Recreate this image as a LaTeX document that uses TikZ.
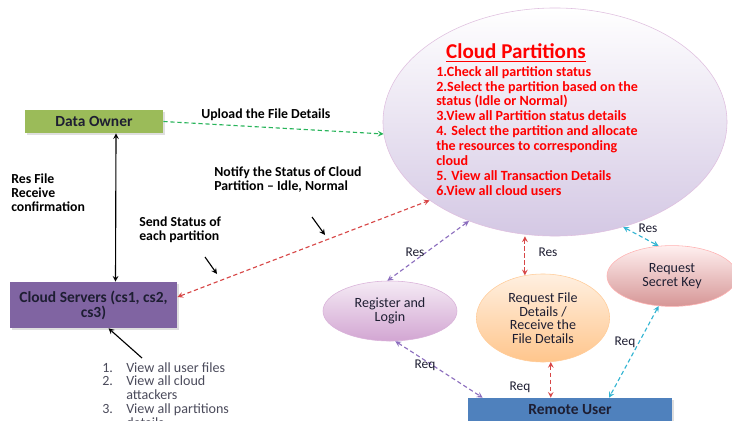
\documentclass[tikz,border=0pt]{standalone}
\usepackage{fontspec}
\setmainfont{Carlito}
\usepackage{tikz}
\usetikzlibrary{shapes.geometric, positioning, calc, shadows}
\definecolor{ownergreen}{RGB}{155,187,89}
\definecolor{serverpurple}{RGB}{128,100,162}
\definecolor{userblue}{RGB}{79,129,189}
\definecolor{boxtext}{RGB}{30,30,50}
\definecolor{dashgreen}{RGB}{40,180,90}
\definecolor{dashred}{RGB}{215,70,70}
\definecolor{dashpurple}{RGB}{140,110,190}
\definecolor{dashcyan}{RGB}{50,180,210}
\definecolor{keyrose}{RGB}{214,150,150}

\begin{document}
\begin{tikzpicture}[x=0.025cm, y=-0.025cm, >=stealth,
    actor/.style={rectangle, inner sep=0pt, font=\fontsize{11}{10.6}\selectfont\bfseries,
        text=boxtext, align=center, drop shadow={shadow xshift=1.2pt, shadow yshift=-1.2pt, opacity=0.25}},
    bubble/.style={ellipse, inner sep=0pt, align=center, text=boxtext,
        font=\fontsize{10}{9.6}\selectfont},
    lbl/.style={inner sep=0pt, align=left, font=\fontsize{9.8}{9.9}\selectfont\bfseries},
    tag/.style={inner sep=0pt, font=\fontsize{9.5}{10}\selectfont, text=boxtext},
    flow/.style={<->, dashed, thick, dash pattern=on 3pt off 2pt}]
    \useasboundingbox (0,0) rectangle (732,421);

    % the cloud partitions
    \node[ellipse, minimum width=8.6cm, minimum height=5.7cm, draw=violet!25,
        top color=white, bottom color={rgb,255:red,212;green,200;blue,228}] (cp) at (555,122) {};
    \node[inner sep=0pt, text=red, font=\fontsize{15}{17}\selectfont\bfseries] (cptitle) at (516,53)
        {\underline{Cloud Partitions}};
    \node[inner sep=0pt, anchor=north west, align=left, text=red,
        font=\fontsize{10}{10.6}\selectfont\bfseries] (cplist) at (436,66)
        {1.Check all partition status\\
         2.Select the partition based on the\\
         status (Idle or Normal)\\
         3.View all Partition status details\\
         4. Select the partition and allocate\\
         the resources to corresponding\\
         cloud\\
         5. View all Transaction Details\\
         6.View all cloud users};

    % boxes
    \node[actor, fill=ownergreen, minimum width=3.45cm, minimum height=0.575cm] (do) at (94,121.5) {Data Owner};
    \node[actor, fill=serverpurple, minimum width=4.18cm, minimum height=1.15cm] (cs) at (93.5,305)
        {Cloud Servers (cs1, cs2,\\ cs3)};
    \node[actor, fill=userblue, minimum width=5.1cm, minimum height=0.6cm] (ru) at (570,410) {Remote User};

    % bubbles
    \node[bubble, minimum width=3.35cm, minimum height=1.5cm, draw=violet!30,
        top color=violet!8, bottom color=violet!35] (rl) at (390,311) {Register and\\[0.8pt] Login};
    \node[bubble, minimum width=3.33cm, minimum height=2.2cm, draw=orange!40,
        top color=orange!12, bottom color=orange!45] (rf) at (543,318)
        {Request File\\ Details /\\ Receive the\\ File Details};
    \node[bubble, minimum width=3.25cm, minimum height=1.52cm, draw=red!30,
        top color=red!6, bottom color=keyrose] (sk) at (672,276) {Request\\[0.8pt] Secret Key};

    % data owner and cloud servers
    \draw[flow, ->, dashgreen] (do.east) -- (cp.184);
    \draw[<->, thick] ([xshift=0.55cm]cs.north) -- ([xshift=0.55cm]do.south);
    \draw[flow, dashred] ([yshift=0.2cm]cs.east) -- (cp.212);
    \node[lbl, anchor=west] (upl) at (201,115) {Upload the File Details};
    \node[lbl, anchor=north west] (resf) at (11,174) {Res File\\ Receive\\ confirmation};
    \node[lbl, anchor=north west] (notify) at (214,167) {Notify the Status of Cloud\\ Partition -- Idle, Normal};
    \node[lbl, anchor=north west] (send) at (139,217) {Send Status of\\ each partition};

    % pointers
    \coordinate (p1) at (312,217);
    \coordinate (p2) at (325,235);
    \coordinate (p3) at (205,257);
    \coordinate (p4) at (217,274);
    \coordinate (p5) at (142,358);
    \draw[->, thick] (p1) -- (p2);
    \draw[->, thick] (p3) -- (p4);
    \draw[->, thick] (p5) -- ([xshift=0.375cm]cs.south);

    \node[inner sep=0pt, anchor=north west, text=boxtext!80, font=\fontsize{10}{9.6}\selectfont] (tasks) at (102,362)
        {\begin{tabular}{@{}p{0.6cm}@{}l@{}}
         1. & View all user files\\
         2. & View all cloud\\
            & attackers\\
         3. & View all partitions\\
            & details
         \end{tabular}};

    % remote user side
    \draw[flow, dashpurple] (cp.229) -- (rl.95);
    \draw[flow, dashpurple] (rl.-80) -- ([xshift=0.375cm]ru.north west);
    \draw[flow, dashred] (rf.113) -- (rf.113 |- cp.south);
    \draw[flow, dashred] (rf.-80) -- (rf.-80 |- ru.north);
    \draw[flow, dashcyan] (cp.303) -- (sk.114);
    \draw[flow, dashcyan] (sk.246) -- ([xshift=0.975cm]ru.north);

    \node[tag] (res1) at (415,252) {Res};
    \node[tag] (res2) at (548,252) {Res};
    \node[tag] (res3) at (648,228) {Res};
    \node[tag] (req1) at (425,365) {Req};
    \node[tag] (req2) at (520,387) {Req};
    \node[tag] (req3) at (625,342) {Req};
\end{tikzpicture}
\end{document}
